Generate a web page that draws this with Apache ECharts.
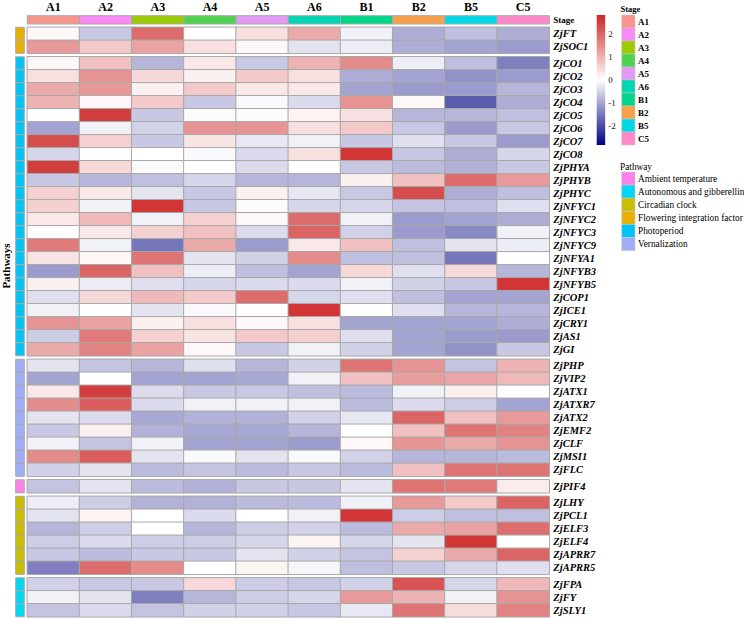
<!DOCTYPE html>
<html><head><meta charset="utf-8">
<script src="https://cdn.jsdelivr.net/npm/echarts@6/dist/echarts.min.js"></script>
<style>html,body{margin:0;padding:0;background:#fff}#c{width:744px;height:618px}</style>
</head><body><div id="c"></div>
<script>
// ---------- data ----------
const stages = ['A1','A2','A3','A4','A5','A6','B1','B2','B5','C5'];
const stageColors = ['#F8958C','#FA8AF5','#9BCB00','#4CD24C','#E39AF5','#00D6B4','#00D68A','#F9A04B','#00D8E5','#FF89C8'];
const pathwayNames = ['Ambient temperature','Autonomous and gibberellin','Circadian clock','Flowering integration factor','Photoperiod','Vernalization'];
const pathwayColors = ['#FF80E8','#00D7F2','#C9BF00','#E8B000','#00C4F6','#A0AEFA'];
const groupPathways = ['Flowering integration factor','Photoperiod','Vernalization','Ambient temperature','Circadian clock','Autonomous and gibberellin'];

const genesFlowering = ['ZjFT','ZjSOC1'];
const valuesFlowering = [
  [0.1,-0.6,1.9,0.0,0.4,1.1,-0.15,-0.9,-0.7,-0.9],
  [1.3,0.7,1.2,0.4,0.1,-0.3,-0.2,-0.9,-1.0,-1.1]
];
const genesPhotoperiod = ['ZjCO1','ZjCO2','ZjCO3','ZjCO4','ZjCO5','ZjCO6','ZjCO7','ZjCO8','ZjPHYA','ZjPHYB','ZjPHYC','ZjNFYC1','ZjNFYC2','ZjNFYC3','ZjNFYC9','ZjNFYA1','ZjNFYB3','ZjNFYB5','ZjCOP1','ZjICE1','ZjCRY1','ZjAS1','ZjGI'];
const valuesPhotoperiod = [
  [0.1,0.8,-0.8,0.3,-0.6,1.0,1.5,-0.2,-0.7,-1.4],
  [0.4,1.4,0.5,0.2,0.7,0.4,-0.9,-1.0,-1.2,-1.1],
  [1.1,1.3,0.2,0.7,0.3,0.3,-1.0,-1.1,-1.1,-0.8],
  [1.0,0.1,0.7,-0.6,-0.05,-0.4,1.4,0.1,-1.8,-0.9],
  [0.0,2.5,-0.6,0.05,0.05,0.15,0.4,-0.8,-0.8,-0.7],
  [-1.0,-0.15,-0.5,1.4,1.4,0.4,0.7,-0.6,-1.1,-0.6],
  [2.3,0.6,-0.6,0.35,-0.25,-0.15,-0.6,-0.35,-0.6,-1.1],
  [-0.45,0.0,0.0,-0.05,-0.4,0.4,2.6,-0.6,-0.9,-0.45],
  [2.5,0.5,-0.05,0.0,-0.4,0.0,-0.6,-0.75,-0.85,-0.6],
  [-0.6,-0.8,-0.7,-0.45,-0.8,-0.8,0.2,0.8,1.9,1.3],
  [0.6,0.3,-0.3,-0.6,0.2,-0.25,-0.6,2.3,-0.9,-0.7],
  [0.6,-0.15,2.6,-0.6,0.05,-0.45,-0.45,-0.65,-0.7,-0.35],
  [0.3,0.9,-0.15,0.6,0.1,1.9,-0.15,-1.1,-1.0,-0.9],
  [0.0,0.3,0.6,0.8,-0.4,2.0,-0.5,-1.1,-1.3,-0.15],
  [1.7,-0.15,-1.5,1.1,-1.1,0.3,0.8,-0.7,-0.3,-0.2],
  [0.35,0.1,1.8,-0.3,-0.5,1.5,-0.7,-0.7,-1.5,0.0],
  [-1.1,2.0,0.8,-0.2,-0.7,-1.0,0.5,-0.35,0.5,-0.8],
  [0.2,-0.2,-0.35,-0.45,-0.4,-0.4,-0.15,-0.5,-0.6,2.6],
  [-0.35,0.5,0.9,0.7,1.9,-0.45,-0.35,-0.7,-1.0,-1.0],
  [-0.15,0.0,-0.3,-0.05,0.0,2.6,0.0,-0.35,-0.8,-0.8],
  [1.4,1.2,0.2,0.4,0.1,0.4,-1.0,-1.0,-1.0,-0.9],
  [-0.55,1.7,0.6,0.35,0.7,0.6,-0.35,-1.0,-1.1,-1.1],
  [1.1,1.6,1.2,0.1,-0.6,-0.15,-0.5,-1.0,-1.2,-0.6]
];
const genesVernalization = ['ZjPHP','ZjVIP2','ZjATX1','ZjATXR7','ZjATX2','ZjEMF2','ZjCLF','ZjMSI1','ZjFLC'];
const valuesVernalization = [
  [-0.3,-0.65,-0.8,-0.35,-0.8,-0.5,1.8,1.4,-0.65,1.0],
  [-1.0,0.0,-1.0,-1.0,-0.95,-0.15,0.8,1.25,1.15,0.9],
  [0.3,2.5,-0.4,-0.6,-0.6,-0.7,-0.75,-0.15,0.2,0.0],
  [1.5,2.1,-0.4,-0.15,-0.15,-0.15,-0.75,-0.4,-0.55,-1.0],
  [-0.3,-0.4,-0.95,-0.85,-0.85,-0.5,-0.25,2.0,0.8,1.3],
  [-0.6,0.2,-0.85,-0.95,-0.95,-0.8,0.0,0.8,1.8,1.6],
  [-0.15,-0.65,-0.15,-1.0,-1.0,-1.1,0.1,1.35,1.1,1.4],
  [1.5,2.1,-0.3,-0.05,-0.3,-0.05,-0.5,-0.8,-0.8,-0.75],
  [-0.5,-0.3,-0.75,-0.65,-0.75,-0.6,-0.75,0.8,1.8,1.8]
];
const genesAmbient = ['ZjPIF4'];
const valuesAmbient = [
  [-0.65,-0.3,-0.75,-0.85,-0.6,-0.6,-0.3,1.8,1.7,0.25]
];
const genesCircadian = ['ZjLHY','ZjPCL1','ZjELF3','ZjELF4','ZjAPRR7','ZjAPRR5'];
const valuesCircadian = [
  [-0.2,-0.55,-0.85,-0.85,-0.75,-0.75,-0.15,1.3,0.7,2.0],
  [-0.3,0.15,0.0,-0.4,0.0,-0.15,2.6,-0.55,-0.7,-0.7],
  [-0.8,-0.55,0.0,-0.8,-0.55,-0.5,-0.75,1.1,1.2,1.9],
  [-0.55,-0.4,-0.55,-0.55,-0.45,0.15,-0.45,-0.3,2.6,0.0],
  [-0.6,-0.75,-0.6,-0.6,-0.3,-0.5,-0.65,0.6,1.1,2.0],
  [-1.4,1.9,1.5,0.0,0.15,-0.1,-0.7,-0.6,-0.45,-0.35]
];
const genesAutonomous = ['ZjFPA','ZjFY','ZjSLY1'];
const valuesAutonomous = [
  [-0.5,-0.6,-0.6,0.5,-0.55,-0.6,-0.5,2.2,-0.45,0.9],
  [-0.15,-0.3,-1.4,-0.8,-0.55,-0.45,1.3,1.0,-0.15,1.4],
  [-0.65,-0.4,-0.65,-0.5,-0.5,-0.6,-0.25,1.8,0.45,1.6]
];
const colorbarRange = [-2.8, 2.8];
const colorbarTicks = [-2, -1, 0, 1, 2];
const heatColors = ['#000080', '#FFFFFF', '#CD2626'];

// ---------- layout ----------
const FONT = 'Liberation Serif, Times New Roman, serif';
const rowH = 13, gap = 3.5, heatTop = 27.3, heatLeft = 27.3, heatWidth = 522;
const annLeft = 15.7, annWidth = 8.6;
const groupGenes = [genesFlowering, genesPhotoperiod, genesVernalization, genesAmbient, genesCircadian, genesAutonomous];
const groupValues = [valuesFlowering, valuesPhotoperiod, valuesVernalization, valuesAmbient, valuesCircadian, valuesAutonomous];

const grid = [], xAxis = [], yAxis = [], series = [], heatIdx = [];

function rectRender(colors, stroke, lw) {
  return function (params, api) {
    const c = api.coord([api.value(0), api.value(1)]);
    const s = api.size([1, 1]);
    return { type: 'rect', shape: { x: c[0] - s[0] / 2, y: c[1] - s[1] / 2, width: s[0], height: s[1] },
      style: { fill: colors[api.value(2)], stroke: stroke, lineWidth: lw } };
  };
}
function addGrid(g, xa, ya) {
  const gi = grid.length;
  grid.push(Object.assign({ containLabel: false, outerBoundsMode: 'none' }, g));
  xAxis.push(Object.assign({ gridIndex: gi }, xa));
  yAxis.push(Object.assign({ gridIndex: gi }, ya));
  return gi;
}
const hiddenCat = (data) => ({ type: 'category', data: data, show: false });

let rowsBefore = 0;
groupGenes.forEach((genes, i) => {
  const top = heatTop + rowsBefore * rowH + i * gap;
  const height = genes.length * rowH;
  rowsBefore += genes.length;
  const gi = addGrid({ left: heatLeft, top: top, width: heatWidth, height: height },
    hiddenCat(stages),
    { type: 'category', data: genes, inverse: true, position: 'right',
      axisLine: { show: false }, axisTick: { show: false }, splitLine: { show: false },
      axisLabel: { interval: 0, hideOverlap: false, margin: 4, fontFamily: FONT, fontStyle: 'italic', fontWeight: 'bold', fontSize: 10.5, color: '#000' } });
  const data = [];
  groupValues[i].forEach((row, r) => row.forEach((v, c) => data.push([c, r, v])));
  heatIdx.push(series.length);
  series.push({ type: 'heatmap', xAxisIndex: gi, yAxisIndex: gi, data: data,
    itemStyle: { borderColor: '#A8A8A8', borderWidth: 1 }, emphasis: { disabled: true }, silent: true });
  const ai = addGrid({ left: annLeft, top: top, width: annWidth, height: height },
    hiddenCat(['Pathway']), Object.assign(hiddenCat(genes), { inverse: true }));
  const pIdx = pathwayNames.indexOf(groupPathways[i]);
  series.push({ type: 'custom', xAxisIndex: ai, yAxisIndex: ai, silent: true,
    data: genes.map((g, r) => [0, r, pIdx]), encode: { x: 0, y: 1 },
    renderItem: rectRender(pathwayColors, '#A8A8A8', 1) });
});

// stage annotation on top
const si = addGrid({ left: heatLeft, top: 15.7, width: heatWidth, height: 8.3 },
  { type: 'category', data: stages, position: 'top', axisLine: { show: false }, axisTick: { show: false },
    axisLabel: { interval: 0, margin: 3, fontFamily: FONT, fontWeight: 'bold', fontSize: 12, color: '#000' } },
  { type: 'category', data: ['Stage'], position: 'right', axisLine: { show: false }, axisTick: { show: false },
    axisLabel: { margin: 4, fontFamily: FONT, fontWeight: 'bold', fontSize: 9, color: '#000' } });
series.push({ type: 'custom', xAxisIndex: si, yAxisIndex: si, silent: true,
  data: stages.map((s, i) => [i, 0, i]), encode: { x: 0, y: 1 },
  renderItem: rectRender(stageColors, '#A8A8A8', 1) });

// colour bar
const ci = addGrid({ left: 596.7, top: 15, width: 8.5, height: 130 },
  hiddenCat(['']),
  { type: 'value', min: colorbarRange[0], max: colorbarRange[1], position: 'right',
    axisLine: { show: false }, axisTick: { show: false }, splitLine: { show: false },
    axisLabel: { customValues: colorbarTicks, margin: 3, fontFamily: FONT, fontSize: 9, color: '#222' } });
series.push({ type: 'custom', xAxisIndex: ci, yAxisIndex: ci, silent: true,
  data: [[0, colorbarRange[0], colorbarRange[1]]], encode: { x: 0, y: [1, 2] },
  renderItem: function (params, api) {
    const t = api.coord([0, api.value(2)]), b = api.coord([0, api.value(1)]);
    const w = api.size([1, 0])[0];
    return { type: 'rect', shape: { x: t[0] - w / 2, y: t[1], width: w, height: b[1] - t[1] },
      style: { fill: new echarts.graphic.LinearGradient(0, 0, 0, 1, [
        { offset: 0, color: heatColors[2] }, { offset: 0.5, color: heatColors[1] }, { offset: 1, color: heatColors[0] }]) } };
  } });

// stage legend
const sl = addGrid({ left: 621.7, top: 15, width: 13.3, height: 130 },
  hiddenCat(['']),
  { type: 'category', data: stages, inverse: true, position: 'right', axisLine: { show: false }, axisTick: { show: false },
    axisLabel: { interval: 0, margin: 3, fontFamily: FONT, fontWeight: 'bold', fontSize: 9, color: '#000' } });
series.push({ type: 'custom', xAxisIndex: sl, yAxisIndex: sl, silent: true,
  data: stages.map((s, i) => [0, i, i]), encode: { x: 0, y: 1 },
  renderItem: rectRender(stageColors, '#C8C8C8', 0.6) });

// pathway legend
const pl = addGrid({ left: 621.7, top: 172, width: 13.3, height: 78.6 },
  hiddenCat(['']),
  { type: 'category', data: pathwayNames, inverse: true, position: 'right', axisLine: { show: false }, axisTick: { show: false },
    axisLabel: { interval: 0, margin: 3, fontFamily: FONT, fontSize: 9.3, color: '#000' } });
series.push({ type: 'custom', xAxisIndex: pl, yAxisIndex: pl, silent: true,
  data: pathwayNames.map((s, i) => [0, i, i]), encode: { x: 0, y: 1 },
  renderItem: rectRender(pathwayColors, '#C8C8C8', 0.6) });

const chart = echarts.init(document.getElementById('c'), null, { renderer: 'svg' });
chart.setOption({
  animation: false,
  backgroundColor: '#fff',
  title: [
    { text: 'Stage', left: 620.5, top: 4, padding: 0, textStyle: { fontFamily: FONT, fontWeight: 'bold', fontSize: 8.5, color: '#000' } },
    { text: 'Pathway', left: 620, top: 162, padding: 0, textStyle: { fontFamily: FONT, fontWeight: 'normal', fontSize: 9.3, color: '#000' } }
  ],
  graphic: [
    { type: 'text', x: 6, y: 266, rotation: Math.PI / 2,
      style: { text: 'Pathways', font: 'bold 11px ' + FONT, align: 'center', verticalAlign: 'middle', fill: '#000' } }
  ],
  visualMap: { type: 'continuous', show: false, min: colorbarRange[0], max: colorbarRange[1], seriesIndex: heatIdx,
    inRange: { color: heatColors } },
  grid: grid, xAxis: xAxis, yAxis: yAxis, series: series
});
</script></body></html>
